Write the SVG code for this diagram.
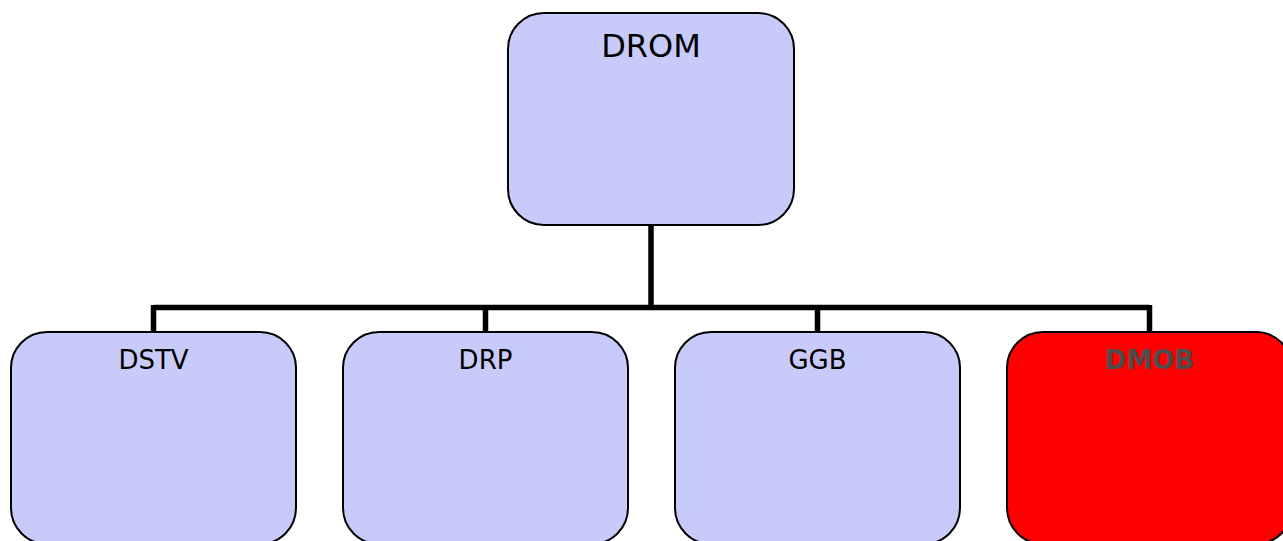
<svg xmlns="http://www.w3.org/2000/svg" width="1283" height="541" viewBox="0 0 1283 541">
<style>
.box{fill:#c8cbfa;stroke:#000;stroke-width:2}
.red{fill:#ff0000;stroke:#000;stroke-width:2}
.lbl{font-family:"DejaVu Sans",Verdana,sans-serif;font-size:26px;fill:#000;text-anchor:middle}
.big{font-size:32px}
.bold{font-weight:bold;fill:#4d4d4d}
.conn{fill:none;stroke:#000;stroke-width:5.5}
</style>
<rect width="1283" height="541" fill="#fff"/>
<g id="connectors">
<path class="conn" d="M651 225V307.5M153.5 307.5H1149.5M153.5 305V332M485.5 305V332M817.5 305V332M1149.5 305V332"/>
</g>
<g id="DROM"><rect class="box" x="508" y="13" width="286" height="212" rx="36"/><text class="lbl big" x="651" y="57">DROM</text></g>
<g id="DSTV"><rect class="box" x="11" y="332" width="285" height="212" rx="36"/><text class="lbl" x="153.5" y="369">DSTV</text></g>
<g id="DRP"><rect class="box" x="343" y="332" width="285" height="212" rx="36"/><text class="lbl" x="485.5" y="369">DRP</text></g>
<g id="GGB"><rect class="box" x="675" y="332" width="285" height="212" rx="36"/><text class="lbl" x="817.5" y="369">GGB</text></g>
<g id="DMOB"><rect class="red" x="1007" y="332" width="285" height="212" rx="36"/><text class="lbl bold" x="1149.5" y="369">DMOB</text></g>
</svg>
